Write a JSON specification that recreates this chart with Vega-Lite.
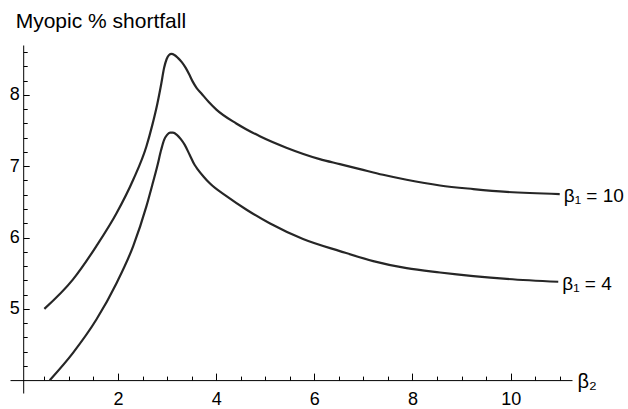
{
  "$schema": "https://vega.github.io/schema/vega-lite/v6.json",
  "width": 562,
  "height": 348,
  "autosize": "none",
  "padding": {"left": 10, "top": 45, "right": 56, "bottom": 16},
  "background": "white",
  "config": {
    "view": {"stroke": null},
    "font": "Liberation Sans",
    "axis": {"labelFontSize": 18, "labelColor": "black", "labelFont": "Liberation Sans", "titleFont": "Liberation Sans", "titleFontWeight": "normal", "titleColor": "black"}
  },
  "datasets": {
    "curves": [
      {"b2": 0.5, "v": 5.0, "s": "b10"},
      {"b2": 1.08, "v": 5.41, "s": "b10"},
      {"b2": 1.56, "v": 5.88, "s": "b10"},
      {"b2": 1.97, "v": 6.34, "s": "b10"},
      {"b2": 2.31, "v": 6.81, "s": "b10"},
      {"b2": 2.58, "v": 7.28, "s": "b10"},
      {"b2": 2.7, "v": 7.58, "s": "b10"},
      {"b2": 2.8, "v": 7.87, "s": "b10"},
      {"b2": 2.88, "v": 8.15, "s": "b10"},
      {"b2": 2.94, "v": 8.38, "s": "b10"},
      {"b2": 2.99, "v": 8.5, "s": "b10"},
      {"b2": 3.04, "v": 8.56, "s": "b10"},
      {"b2": 3.09, "v": 8.575, "s": "b10"},
      {"b2": 3.15, "v": 8.56, "s": "b10"},
      {"b2": 3.22, "v": 8.52, "s": "b10"},
      {"b2": 3.3, "v": 8.46, "s": "b10"},
      {"b2": 3.38, "v": 8.38, "s": "b10"},
      {"b2": 3.45, "v": 8.29, "s": "b10"},
      {"b2": 3.52, "v": 8.19, "s": "b10"},
      {"b2": 3.6, "v": 8.1, "s": "b10"},
      {"b2": 3.7, "v": 8.02, "s": "b10"},
      {"b2": 3.85, "v": 7.9, "s": "b10"},
      {"b2": 4.01, "v": 7.79, "s": "b10"},
      {"b2": 4.41, "v": 7.6, "s": "b10"},
      {"b2": 4.89, "v": 7.42, "s": "b10"},
      {"b2": 5.43, "v": 7.26, "s": "b10"},
      {"b2": 6.11, "v": 7.1, "s": "b10"},
      {"b2": 6.52, "v": 7.03, "s": "b10"},
      {"b2": 6.93, "v": 6.96, "s": "b10"},
      {"b2": 7.4, "v": 6.88, "s": "b10"},
      {"b2": 7.88, "v": 6.81, "s": "b10"},
      {"b2": 8.56, "v": 6.73, "s": "b10"},
      {"b2": 9.24, "v": 6.68, "s": "b10"},
      {"b2": 9.92, "v": 6.64, "s": "b10"},
      {"b2": 11.0, "v": 6.61, "s": "b10"},
      {"b2": 0.61, "v": 4.0, "s": "b4"},
      {"b2": 1.08, "v": 4.38, "s": "b4"},
      {"b2": 1.56, "v": 4.85, "s": "b4"},
      {"b2": 1.97, "v": 5.36, "s": "b4"},
      {"b2": 2.31, "v": 5.88, "s": "b4"},
      {"b2": 2.58, "v": 6.44, "s": "b4"},
      {"b2": 2.7, "v": 6.74, "s": "b4"},
      {"b2": 2.8, "v": 7.0, "s": "b4"},
      {"b2": 2.88, "v": 7.23, "s": "b4"},
      {"b2": 2.94, "v": 7.37, "s": "b4"},
      {"b2": 3.0, "v": 7.44, "s": "b4"},
      {"b2": 3.06, "v": 7.47, "s": "b4"},
      {"b2": 3.12, "v": 7.47, "s": "b4"},
      {"b2": 3.2, "v": 7.44, "s": "b4"},
      {"b2": 3.28, "v": 7.38, "s": "b4"},
      {"b2": 3.36, "v": 7.3, "s": "b4"},
      {"b2": 3.46, "v": 7.16, "s": "b4"},
      {"b2": 3.56, "v": 7.02, "s": "b4"},
      {"b2": 3.62, "v": 6.96, "s": "b4"},
      {"b2": 3.75, "v": 6.85, "s": "b4"},
      {"b2": 3.87, "v": 6.76, "s": "b4"},
      {"b2": 4.21, "v": 6.58, "s": "b4"},
      {"b2": 4.62, "v": 6.39, "s": "b4"},
      {"b2": 5.09, "v": 6.2, "s": "b4"},
      {"b2": 5.77, "v": 5.98, "s": "b4"},
      {"b2": 6.52, "v": 5.81, "s": "b4"},
      {"b2": 7.2, "v": 5.67, "s": "b4"},
      {"b2": 7.88, "v": 5.57, "s": "b4"},
      {"b2": 8.56, "v": 5.51, "s": "b4"},
      {"b2": 9.24, "v": 5.46, "s": "b4"},
      {"b2": 9.92, "v": 5.42, "s": "b4"},
      {"b2": 10.97, "v": 5.38, "s": "b4"}
    ]
  },
  "layer": [
    {
      "data": {"name": "curves"},
      "mark": {"type": "line", "opacity": 0, "clip": false},
      "encoding": {
        "detail": {"field": "s", "type": "nominal"},
        "x": {
          "field": "b2", "type": "quantitative",
          "scale": {"domain": [-0.2, 11.25], "nice": false, "zero": false},
          "axis": {
            "orient": "bottom", "offset": -12.9,
            "values": [0.5, 1, 1.5, 2.5, 3, 3.5, 4.5, 5, 5.5, 6.5, 7, 7.5, 8.5, 9, 9.5, 10.5, 11],
            "labels": false, "domain": false, "grid": false, "title": null,
            "tickColor": "black", "tickWidth": 1, "tickSize": -4
          }
        },
        "y": {
          "field": "v", "type": "quantitative",
          "scale": {"domain": [3.82, 8.7], "nice": false, "zero": false},
          "axis": {
            "orient": "left", "offset": -13.2,
            "values": [4.2, 4.4, 4.6, 4.8, 5.2, 5.4, 5.6, 5.8, 6.2, 6.4, 6.6, 6.8, 7.2, 7.4, 7.6, 7.8, 8.2, 8.4, 8.6],
            "labels": false, "domain": false, "grid": false, "title": null,
            "tickColor": "black", "tickWidth": 1, "tickSize": -4
          }
        }
      }
    },
    {
      "data": {"name": "curves"},
      "mark": {"type": "line", "interpolate": "monotone", "color": "#262626", "strokeWidth": 2.2, "clip": false},
      "encoding": {
        "detail": {"field": "s", "type": "nominal"},
        "x": {
          "field": "b2", "type": "quantitative",
          "axis": {
            "orient": "bottom", "offset": -12.9,
            "values": [2, 4, 6, 8, 10],
            "format": "d",
            "labelOverlap": false, "labelFlush": false,
            "grid": false,
            "domainColor": "black", "domainWidth": 1,
            "tickColor": "black", "tickWidth": 1, "tickSize": -7,
            "labelPadding": 17,
            "labelFontSize": 18,
            "title": "β₂", "titleFontSize": 20,
            "titleAlign": "left", "titleBaseline": "middle", "titleX": 567, "titleY": 1, "titleAngle": 0
          }
        },
        "y": {
          "field": "v", "type": "quantitative",
          "axis": {
            "orient": "left", "offset": -13.2,
            "values": [5, 6, 7, 8],
            "format": "d",
            "labelOverlap": false, "labelFlush": false,
            "grid": false,
            "domainColor": "black", "domainWidth": 1,
            "tickColor": "black", "tickWidth": 1, "tickSize": -6,
            "labelPadding": 10,
            "labelFontSize": 18,
            "title": "Myopic % shortfall", "titleFontSize": 21,
            "titleAlign": "left", "titleBaseline": "alphabetic", "titleAngle": 0, "titleX": -8, "titleY": -18
          }
        }
      }
    },
    {
      "data": {"values": [
        {"b2": 11.0, "v": 6.61, "label": "β₁ = 10"},
        {"b2": 10.97, "v": 5.38, "label": "β₁ = 4"}
      ]},
      "mark": {"type": "text", "align": "left", "baseline": "middle", "dx": 4, "dy": 2, "fontSize": 19, "color": "black", "font": "Liberation Sans", "clip": false},
      "encoding": {
        "x": {"field": "b2", "type": "quantitative", "axis": null},
        "y": {"field": "v", "type": "quantitative", "axis": null},
        "text": {"field": "label"}
      }
    }
  ],
  "resolve": {"axis": {"x": "independent", "y": "independent"}}
}
